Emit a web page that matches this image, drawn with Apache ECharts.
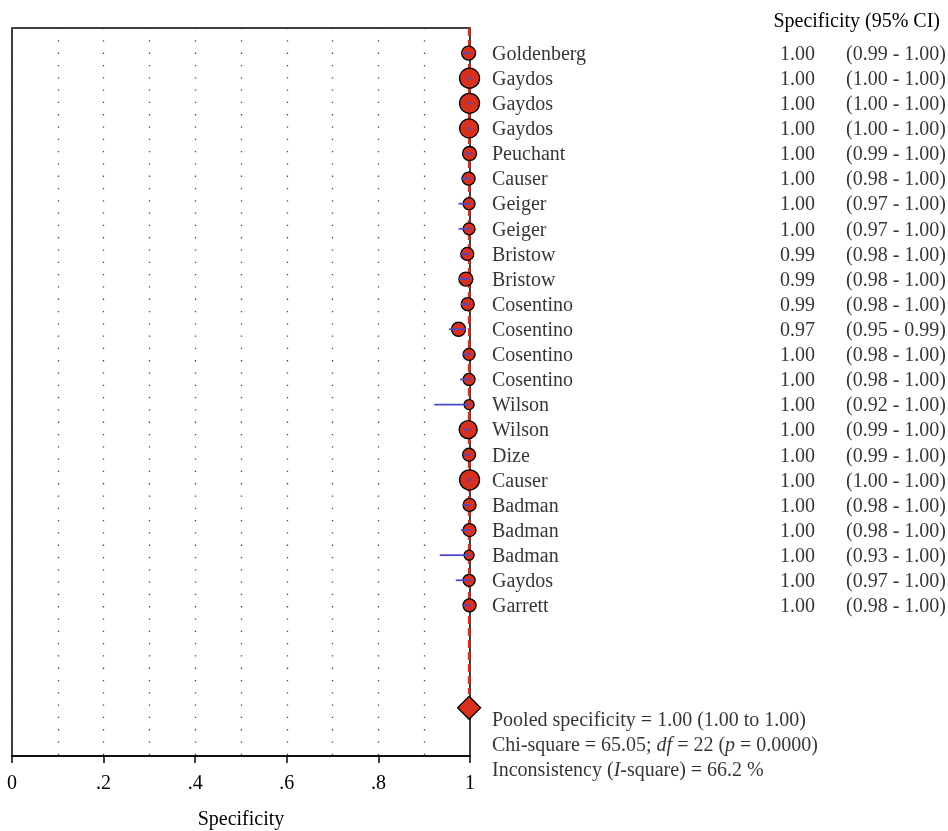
<!DOCTYPE html>
<html><head><meta charset="utf-8">
<script src="https://cdn.jsdelivr.net/npm/echarts@6/dist/echarts.min.js"></script>
<style>html,body{margin:0;padding:0;background:#fff}#c{width:948px;height:831px}</style>
</head><body><div id="c"></div>
<script>
const studies = ['Goldenberg','Gaydos','Gaydos','Gaydos','Peuchant','Causer','Geiger','Geiger','Bristow','Bristow','Cosentino','Cosentino','Cosentino','Cosentino','Wilson','Wilson','Dize','Causer','Badman','Badman','Badman','Gaydos','Garrett'];
const estimate = [0.997,0.999,0.999,0.998,0.999,0.997,0.998,0.998,0.994,0.991,0.995,0.975,0.998,0.998,0.998,0.996,0.998,0.999,0.999,0.999,0.998,0.998,0.999];
const lower = [0.987,0.994,0.994,0.994,0.989,0.980,0.975,0.975,0.980,0.976,0.980,0.954,0.983,0.978,0.922,0.987,0.988,0.994,0.984,0.980,0.934,0.969,0.985];
const upper = [1.001,1.002,1.002,1.002,1.003,1.001,1.001,1.001,1,1,1,0.991,1.001,1.001,1.001,1,1.001,1.002,1.001,1.001,1.001,1.001,1.001];
const weight = [14,20,20,19,14,13,12,12,13,14,13,14,12,12,10,18,13,20,13,13,10,12,13];
const specText = ['1.00','1.00','1.00','1.00','1.00','1.00','1.00','1.00','0.99','0.99','0.99','0.97','1.00','1.00','1.00','1.00','1.00','1.00','1.00','1.00','1.00','1.00','1.00'];
const ciText = ['(0.99 - 1.00)','(1.00 - 1.00)','(1.00 - 1.00)','(1.00 - 1.00)','(0.99 - 1.00)','(0.98 - 1.00)','(0.97 - 1.00)','(0.97 - 1.00)','(0.98 - 1.00)','(0.98 - 1.00)','(0.98 - 1.00)','(0.95 - 0.99)','(0.98 - 1.00)','(0.98 - 1.00)','(0.92 - 1.00)','(0.99 - 1.00)','(0.99 - 1.00)','(1.00 - 1.00)','(0.98 - 1.00)','(0.98 - 1.00)','(0.93 - 1.00)','(0.97 - 1.00)','(0.98 - 1.00)'];
const pooled = 0.998;
const pooledRow = 26;
const xTicks = {0:'0',0.2:'.2',0.4:'.4',0.6:'.6',0.8:'.8',1:'1'};

const FONT = 'Liberation Serif';
const FS = 20;
const INK = '#000';
const RED = '#d8301f';
const chart = echarts.init(document.getElementById('c'));
const rows = studies.map((s,i)=>i);
const textStyle = {fontFamily: FONT, fontSize: FS, color: INK, offset: [0, 1.5]};

chart.setOption({
  animation: false,
  textStyle: {fontFamily: FONT},
  title: {text: 'Specificity (95% CI)', right: 3, top: 7, textStyle: {fontFamily: FONT, fontSize: FS, fontWeight: 'normal', color: INK}},
  grid: [
    {left: 12, top: 28, width: 458, height: 728, outerBoundsMode: 'none', containLabel: false, show: true, borderColor: '#000', borderWidth: 1.5, backgroundColor: 'transparent'},
    {left: 470, top: 28, right: 0, height: 728, outerBoundsMode: 'none', containLabel: false}
  ],
  xAxis: [
    {gridIndex: 0, type: 'value', position: 'bottom', min: 0, max: 1, interval: 0.2,
      axisLine: {show: true, onZero: false, lineStyle: {color: '#000', width: 1.5}},
      axisTick: {show: true, length: 7, lineStyle: {color: '#000', width: 1.5}},
      axisLabel: {margin: 18, fontFamily: FONT, fontSize: FS, color: INK, formatter: v => xTicks[Math.round(v*10)/10] ?? ''},
      splitLine: {show: true, lineStyle: {color: '#444', width: 1.3, type: [1.3, 11]}},
      minorTick: {show: false, splitNumber: 2},
      minorSplitLine: {show: true, lineStyle: {color: '#444', width: 1.3, type: [1.3, 11]}},
      name: 'Specificity', nameLocation: 'middle', nameGap: 54,
      nameTextStyle: {fontFamily: FONT, fontSize: FS, color: INK}},
    {gridIndex: 1, type: 'value', min: 0, max: 478, show: false}
  ],
  yAxis: [
    {gridIndex: 0, type: 'value', min: -1, max: 28, inverse: true, show: false},
    {gridIndex: 1, type: 'value', min: -1, max: 28, inverse: true, show: false}
  ],
  series: [
    {type: 'line', xAxisIndex: 0, yAxisIndex: 0, data: [[pooled, -1], [pooled, pooledRow - 0.47]], symbol: 'none', z: 1,
      lineStyle: {color: RED, width: 2.5, type: [8, 4]}},
    {type: 'scatter', xAxisIndex: 0, yAxisIndex: 0, z: 3,
      data: rows.map(i => ({value: [estimate[i], i], symbolSize: weight[i]})),
      itemStyle: {color: RED, borderColor: '#000', borderWidth: 1.3, opacity: 1}},
    {type: 'custom', xAxisIndex: 0, yAxisIndex: 0, z: 6, clip: false,
      data: rows.map(i => [lower[i], upper[i], i]),
      renderItem: (params, api) => {
        const a = api.coord([api.value(0), api.value(2)]);
        const b = api.coord([api.value(1), api.value(2)]);
        return {type: 'line', z2: 10, shape: {x1: a[0], y1: a[1], x2: b[0], y2: b[1]}, style: {stroke: '#4b4bc8', lineWidth: 1.8}};
      }},
    {type: 'scatter', xAxisIndex: 0, yAxisIndex: 0, z: 3, symbol: 'diamond', symbolSize: [23, 23],
      data: [[pooled, pooledRow + 0.08]],
      itemStyle: {color: RED, borderColor: '#000', borderWidth: 1.3, opacity: 1}},
    // text columns
    {type: 'scatter', xAxisIndex: 1, yAxisIndex: 1, symbolSize: 0, clip: false, silent: true,
      data: rows.map(i => ({value: [22, i], name: studies[i]})),
      label: {show: true, position: 'right', distance: 0, formatter: p => p.name, ...textStyle}},
    {type: 'scatter', xAxisIndex: 1, yAxisIndex: 1, symbolSize: 0, clip: false, silent: true,
      data: rows.map(i => ({value: [345, i], name: specText[i]})),
      label: {show: true, position: 'left', distance: 0, formatter: p => p.name, ...textStyle}},
    {type: 'scatter', xAxisIndex: 1, yAxisIndex: 1, symbolSize: 0, clip: false, silent: true,
      data: rows.map(i => ({value: [476, i], name: ciText[i]})),
      label: {show: true, position: 'left', distance: 0, formatter: p => p.name, ...textStyle}},
    {type: 'scatter', xAxisIndex: 1, yAxisIndex: 1, symbolSize: 0, clip: false, silent: true,
      data: [[22, pooledRow + 1.53]],
      label: {show: true, position: 'right', distance: 0, lineHeight: 25, offset: [0, 1.5],
        formatter: '{n|Pooled specificity = 1.00 (1.00 to 1.00)}\n{n|Chi-square = 65.05; }{i|df}{n| = 22 (}{i|p}{n| = 0.0000)}\n{n|Inconsistency (}{i|I}{n|-square) = 66.2 %}',
        rich: {
          n: {fontFamily: FONT, fontSize: FS, color: INK, lineHeight: 25},
          i: {fontFamily: FONT, fontSize: FS, color: INK, fontStyle: 'italic', lineHeight: 25}
        }}}
  ]
});
</script></body></html>
